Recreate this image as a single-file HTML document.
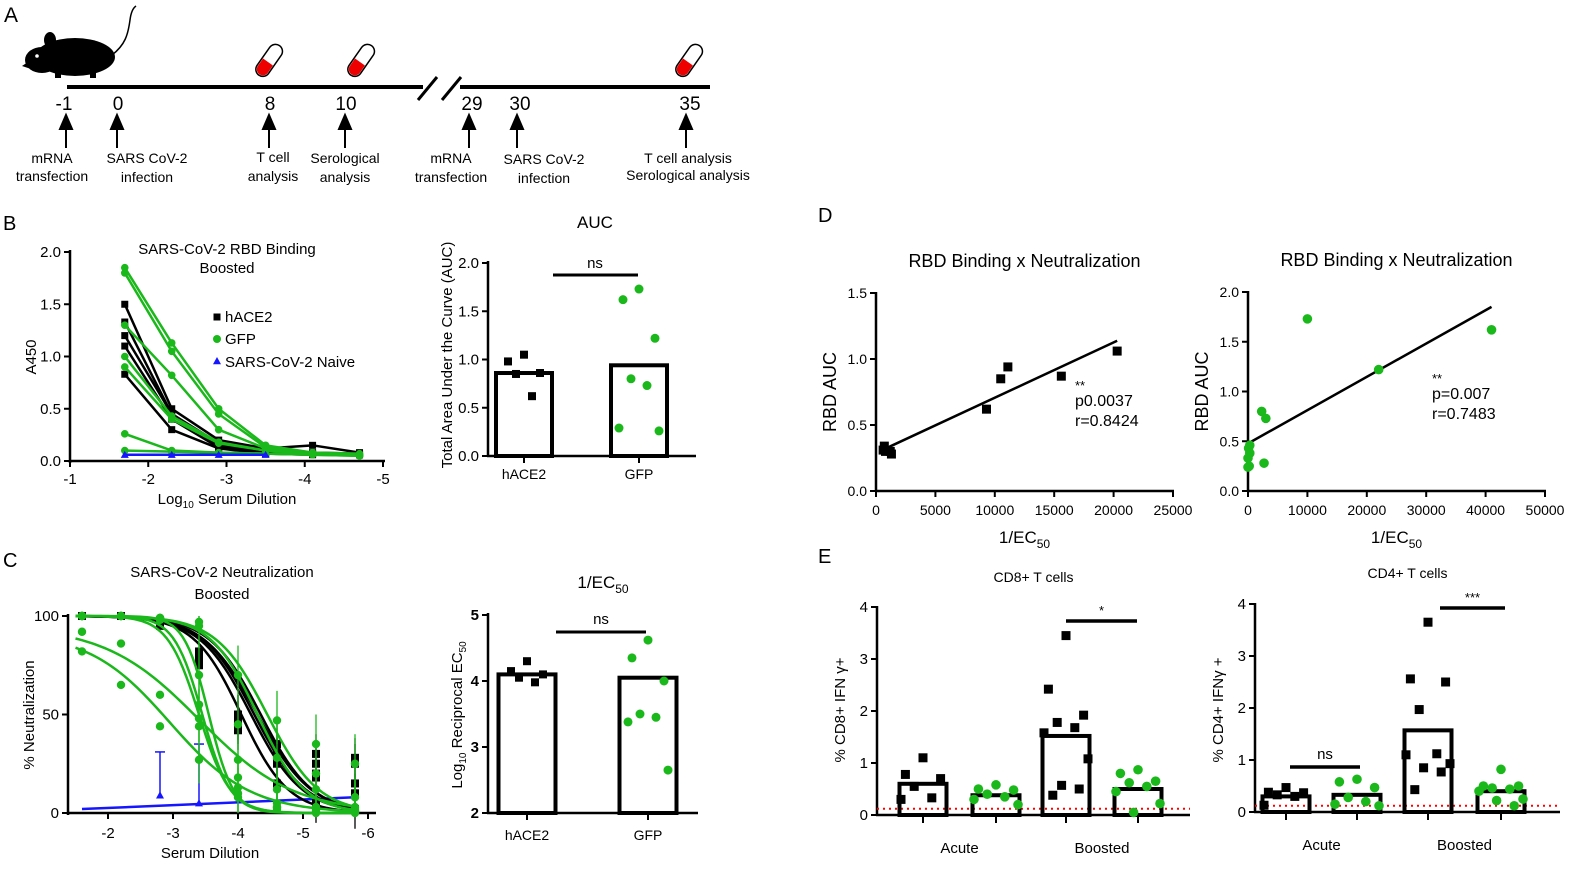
<!DOCTYPE html>
<html><head><meta charset="utf-8"><style>
html,body{margin:0;padding:0;background:#fff;overflow:hidden;}
svg{display:block;font-family:"Liberation Sans",sans-serif;}
</style></head><body>
<svg id="fig" width="1589" height="876" viewBox="0 0 1589 876" xmlns="http://www.w3.org/2000/svg">
<!-- Panel A -->
<g font-size="15" fill="#000">
<text x="4" y="22" font-size="21">A</text>
<g>
<ellipse cx="75" cy="57" rx="40" ry="19" fill="#000"/>
<ellipse cx="42" cy="60" rx="17" ry="13" fill="#000"/>
<path d="M28 62 L22 66 L34 70 Z" fill="#000"/>
<ellipse cx="50" cy="40" rx="6" ry="8" fill="#000"/>
<circle cx="37" cy="56" r="1.8" fill="#fff"/>
<path d="M112 55 C125 45,128 35,130 20 C131 12,133 8,136 6" stroke="#000" stroke-width="1.5" fill="none"/>
<rect x="55" y="72" width="6" height="6" fill="#000"/><rect x="90" y="72" width="6" height="6" fill="#000"/>
</g>
<line x1="67" y1="87" x2="423" y2="87" stroke="#000" stroke-width="4"/>
<line x1="460" y1="87" x2="710" y2="87" stroke="#000" stroke-width="4"/>
<line x1="418" y1="100" x2="437" y2="77" stroke="#000" stroke-width="3"/>
<line x1="442" y1="100" x2="461" y2="77" stroke="#000" stroke-width="3"/>
<g transform="translate(268,62) rotate(35)"><rect x="-7" y="-20" width="14" height="36" rx="7" fill="#fff" stroke="#000" stroke-width="1.5"/><path d="M-6 0 L6 0 L6 9 A6 6 0 0 1 -6 9 Z" fill="#e00"/></g>
<g transform="translate(360,62) rotate(35)"><rect x="-7" y="-20" width="14" height="36" rx="7" fill="#fff" stroke="#000" stroke-width="1.5"/><path d="M-6 0 L6 0 L6 9 A6 6 0 0 1 -6 9 Z" fill="#e00"/></g>
<g transform="translate(688,62) rotate(35)"><rect x="-7" y="-20" width="14" height="36" rx="7" fill="#fff" stroke="#000" stroke-width="1.5"/><path d="M-6 0 L6 0 L6 9 A6 6 0 0 1 -6 9 Z" fill="#e00"/></g>
<g font-size="19" text-anchor="middle">
<text x="64" y="110">-1</text><text x="118" y="110">0</text><text x="270" y="110">8</text><text x="346" y="110">10</text><text x="472" y="110">29</text><text x="520" y="110">30</text><text x="690" y="110">35</text>
</g>
<g stroke="#000" stroke-width="2" fill="#000">
<line x1="66" y1="148" x2="66" y2="122"/><path d="M60 129 L66 115 L72 129 Z"/>
<line x1="117" y1="148" x2="117" y2="122"/><path d="M111 129 L117 115 L123 129 Z"/>
<line x1="269" y1="148" x2="269" y2="122"/><path d="M263 129 L269 115 L275 129 Z"/>
<line x1="345" y1="148" x2="345" y2="122"/><path d="M339 129 L345 115 L351 129 Z"/>
<line x1="469" y1="148" x2="469" y2="122"/><path d="M463 129 L469 115 L475 129 Z"/>
<line x1="517" y1="148" x2="517" y2="122"/><path d="M511 129 L517 115 L523 129 Z"/>
<line x1="686" y1="148" x2="686" y2="122"/><path d="M680 129 L686 115 L692 129 Z"/>
</g>
<g font-size="14" text-anchor="middle">
<text x="52" y="163">mRNA</text><text x="52" y="181">transfection</text>
<text x="147" y="163">SARS CoV-2</text><text x="147" y="182">infection</text>
<text x="273" y="162">T cell</text><text x="273" y="181">analysis</text>
<text x="345" y="163">Serological</text><text x="345" y="182">analysis</text>
<text x="451" y="163">mRNA</text><text x="451" y="182">transfection</text>
<text x="544" y="164">SARS CoV-2</text><text x="544" y="183">infection</text>
<text x="688" y="163">T cell analysis</text><text x="688" y="180">Serological analysis</text>
</g>
</g>
<g font-size="20">
<text x="3" y="230">B</text>
<text x="3" y="567">C</text>
<text x="818" y="222">D</text>
<text x="818" y="563">E</text>
</g>
</svg>
<script>
// ---------- DATA ----------
const bDilution=[-1.7,-2.3,-2.9,-3.5,-4.1,-4.7];
const bHace2=[[1.5,0.5,0.2,0.12,0.15,0.08],[1.33,0.45,0.17,0.1,0.08,0.07],[1.2,0.45,0.15,0.08,0.07,0.06],[1.1,0.4,0.13,0.07,0.07,0.06],[0.83,0.3,0.12,0.07,0.06,0.06]];
const bGfp=[[1.85,1.13,0.5,0.15,0.08,0.07],[1.8,1.05,0.45,0.13,0.08,0.06],[1.3,0.82,0.3,0.12,0.07,0.06],[1.0,0.43,0.18,0.1,0.07,0.05],[0.9,0.4,0.17,0.1,0.07,0.05],[0.26,0.1,0.08,0.07,0.06,0.05],[0.1,0.09,0.08,0.07,0.06,0.05]];
const bNaive=[0.06,0.06,0.06,0.06];
const bYTicks=[0,0.5,1.0,1.5,2.0];
const bXTicks=[-1,-2,-3,-4,-5];
const aucGroups=["hACE2","GFP"];
const aucMeans=[0.86,0.94];
const aucHace2=[1.05,0.98,0.86,0.85,0.62];
const aucGfp=[1.73,1.62,1.22,0.8,0.73,0.29,0.26];
const aucYTicks=[0,0.5,1.0,1.5,2.0];
const cDilution=[-1.6,-2.2,-2.8,-3.4,-4.0,-4.6,-5.2,-5.8];
const cHace2=[[100,100,97,82,50,15,5,2],[100,100,96,78,47,25,20,10],[100,100,95,76,45,30,25,15],[100,100,97,80,50,35,30,25],[100,100,96,75,42,28,18,28]];
const cHace2IC=[-4.05,-4.2,-4.25,-4.3,-4.35];
const cHace2Hill=[1.2,1.1,1.1,1.05,1.1];
const cGfp=[[100,100,99,55,13,3,1,0],[100,100,98,48,18,5,2,1],[100,100,99,70,8,2,0,1],[100,100,99,97,70,47,35,25],[100,100,99,95,45,28,20,3],[92,86,60,44,27,12,12,8],[82,65,44,27,10,3,3,2]];
const cGfpIC=[-3.45,-3.4,-3.55,-4.45,-4.3,-3.4,-2.95];
const cGfpHill=[2.0,1.8,2.3,1.1,1.2,0.6,0.7];
const cGfpTop=[100,100,100,100,100,95,92];
const cNaiveLine=[2,8];
const cNaiveDil=[-2.8,-3.4];
const cNaiveVal=[9,5];
const cNaiveErr=[22,30];
const cYTicks=[0,50,100];
const cXTicks=[-2,-3,-4,-5,-6];
const ecMeans=[4.1,4.05];
const ecHace2=[4.3,4.15,4.1,4.05,3.98];
const ecGfp=[4.62,4.35,4.0,3.5,3.45,3.38,2.65];
const ecYTicks=[2,3,4,5];
const dLeftX=[600,700,800,1200,1300,9300,10500,11100,15600,20300];
const dLeftY=[0.31,0.34,0.3,0.3,0.28,0.62,0.85,0.94,0.87,1.06];
const dRightX=[0,200,300,0,100,300,2300,3000,2700,10000,22000,41000];
const dRightY=[0.24,0.25,0.38,0.33,0.43,0.46,0.8,0.73,0.28,1.73,1.22,1.62];
const dLeftXTicks=[0,5000,10000,15000,20000,25000];
const dLeftYTicks=[0.0,0.5,1.0,1.5];
const dRightXTicks=[0,10000,20000,30000,40000,50000];
const dRightYTicks=[0.0,0.5,1.0,1.5,2.0];
const eGroups=["Acute","Boosted"];
const cd8Means=[0.6,0.38,1.52,0.5];
const cd8Points=[[1.1,0.78,0.7,0.55,0.33,0.3],[0.58,0.5,0.48,0.4,0.35,0.3,0.2],[3.45,2.42,1.92,1.78,1.68,1.58,1.08,0.57,0.5,0.38],[0.87,0.8,0.65,0.62,0.55,0.45,0.22,0.05]];
const cd4Means=[0.3,0.33,1.57,0.4];
const cd4Points=[[0.47,0.38,0.37,0.33,0.3,0.13],[0.63,0.58,0.47,0.28,0.2,0.15,0.12],[3.65,2.56,2.5,1.97,1.12,1.1,0.93,0.85,0.77,0.43],[0.82,0.5,0.5,0.46,0.44,0.4,0.25,0.22,0.12]];
const eYTicks=[0,1,2,3,4];
const eDetection=[0.12];

// ---------- HELPERS ----------
const NS="http://www.w3.org/2000/svg";
const svg=document.getElementById('fig');
const GREEN="#1bb81b";
function mk(tag,attrs,name,txt){
  const e=document.createElementNS(NS,tag);
  for(const k in attrs) e.setAttribute(k,attrs[k]);
  
  
  if(txt!==undefined) e.textContent=txt;
  svg.appendChild(e);
  return e;
}
function lin(d0,d1,r0,r1){return v=>r0+(v-d0)*(r1-r0)/(d1-d0);}
function ln(x1,y1,x2,y2,w,c,name,extra){return mk('line',Object.assign({x1,y1,x2,y2,stroke:c||'#000','stroke-width':w||2},extra||{}),name);}
function tx(x,y,s,size,anchor,name,extra){return mk('text',Object.assign({x,y,'font-size':size||15,'text-anchor':anchor||'middle',fill:'#000'},extra||{}),name,s);}
function sq(x,y,s,c,name){return mk('rect',{x:x-s/2,y:y-s/2,width:s,height:s,fill:c||'#000'},name);}
function dot(x,y,r,c,name){return mk('circle',{cx:x,cy:y,r:r,fill:c||GREEN},name);}
function tri(x,y,s,c,name){return mk('path',{d:`M${x-s} ${y+s*0.8} L${x} ${y-s} L${x+s} ${y+s*0.8} Z`,fill:c},name);}
function rot(x,y,s,size,name,extra){return mk('text',Object.assign({x:0,y:0,'font-size':size||15,'text-anchor':'middle',transform:`translate(${x},${y}) rotate(-90)`},extra||{}),name,s);}
function yAxis(x,y0,y1,ticks,sy,fmt,size,name,bold){
  ln(x,y0,x,y1,2.5,'#000',name+'-line');
  ticks.forEach(t=>{ln(x-6,sy(t),x,sy(t),2,'#000',name+'-tick');
    tx(x-9,sy(t)+5,fmt(t),size||15,'end',name+'-tick-label',bold?{'font-weight':'bold'}:{});});
}

// ---------- PANEL B LEFT ----------
(function(){
  const sx=lin(-1,-5,70,383), sy=lin(0,2,461,252);
  yAxis(70,463,250,bYTicks,sy,t=>t.toFixed(1),15,'b-y-axis');
  ln(69,461,385,461,2.5,'#000','b-x-axis');
  bXTicks.forEach(t=>{ln(sx(t),461,sx(t),467,2,'#000','b-x-tick');tx(sx(t),484,String(t),15,'middle','b-x-tick-label');});
  const draw=(arr,c,name,marker)=>arr.forEach(s=>{
    mk('polyline',{points:s.map((v,i)=>sx(bDilution[i])+','+sy(v)).join(' '),fill:'none',stroke:c,'stroke-width':2.5},name+'-line');
    s.forEach((v,i)=>marker(sx(bDilution[i]),sy(v),name+'-point'));
  });
  draw(bHace2,'#000','b-hace2',(x,y,n)=>sq(x,y,7,'#000',n));
  draw(bGfp,GREEN,'b-gfp',(x,y,n)=>dot(x,y,3.8,GREEN,n));
  mk('polyline',{points:bNaive.map((v,i)=>sx(bDilution[i])+','+sy(v)).join(' '),fill:'none',stroke:'#1515ff','stroke-width':2.5},'b-naive-line');
  bNaive.forEach((v,i)=>tri(sx(bDilution[i]),sy(v),4,'#1515ff','b-naive-point'));
  tx(227,254,'SARS-CoV-2  RBD Binding',15,'middle','b-title');
  tx(227,273,'Boosted',15,'middle','b-subtitle');
  rot(36,357,'A450',15,'b-y-axis-title');
  mk('text',{x:227,y:504,'font-size':15,'text-anchor':'middle'},'b-x-axis-title').innerHTML='Log<tspan font-size="10" dy="4">10</tspan><tspan dy="-4"> Serum Dilution</tspan>';
  sq(217,317,7,'#000','legend-hace2-marker');tx(225,322,'hACE2',15,'start','legend-hace2');
  dot(217,339,4,GREEN,'legend-gfp-marker');tx(225,344,'GFP',15,'start','legend-gfp');
  tri(217,361,4,'#1515ff','legend-naive-marker');tx(225,367,'SARS-CoV-2 Naive',15,'start','legend-naive');
})();

function barChart(o){
  const sy=lin(o.d0,o.d1,o.y0,o.y1);
  yAxis(o.ax,o.y0+1,o.y1-2,o.ticks,sy,o.fmt,o.tsize,o.name+'-y-axis',o.bold);
  ln(o.ax-1,o.y0,o.ax2,o.y0,2.5,'#000',o.name+'-x-axis');
  o.means.forEach((m,i)=>{
    const cx=o.centers[i];
    mk('rect',{x:cx-o.bw/2,y:sy(m),width:o.bw,height:o.y0-sy(m),fill:'none',stroke:'#000','stroke-width':4},o.name+'-bar-'+i);
    if(o.ticksX) ln(cx,o.y0,cx,o.y0+7,2,'#000',o.name+'-x-tick');
  });
  return sy;
}
const jit=[0,-16,16,-8,8,-20,20,-4,12,-12];

// ---------- AUC ----------
(function(){
  const centers=[524,639];
  const sy=barChart({name:'auc',d0:0,d1:2,y0:456,y1:263,ax:488,ax2:696,ticks:aucYTicks,fmt:t=>t.toFixed(1),tsize:15,means:aucMeans,centers,bw:56,ticksX:true});
  aucHace2.forEach((v,i)=>sq(centers[0]+jit[i],sy(v),8,'#000','auc-hace2-point'));
  aucGfp.forEach((v,i)=>dot(centers[1]+jit[i],sy(v),4.5,GREEN,'auc-gfp-point'));
  aucGroups.forEach((g,i)=>tx(centers[i],479,g,14,'middle','auc-x-label'));
  ln(553,275,638,275,3,'#000','auc-ns-bar');tx(595,268,'ns',15,'middle','auc-ns-label');
  tx(595,228,'AUC',17,'middle','auc-title');
  rot(452,355,'Total Area Under the Curve (AUC)',15,'auc-y-axis-title');
})();

// ---------- PANEL C LEFT ----------
(function(){
  const sx=lin(-2,-6,108,368), sy=lin(0,100,813,616);
  yAxis(68,815,614,cYTicks,sy,t=>String(t),15,'c-y-axis');
  ln(67,813,376,813,2.5,'#000','c-x-axis');
  cXTicks.forEach(t=>{ln(sx(t),813,sx(t),819,2,'#000','c-x-tick');tx(sx(t),838,String(t),15,'middle','c-x-tick-label');});
  const curve=(ic,h,top,c,name)=>{const pts=[];for(let x=-1.5;x>=-5.85;x-=0.05){pts.push(sx(x)+','+sy(top/(1+Math.pow(10,h*(ic-x)))));}
    mk('polyline',{points:pts.join(' '),fill:'none',stroke:c,'stroke-width':2.5},name);};
  mk('line',{x1:sx(-1.6),y1:sy(cNaiveLine[0]),x2:sx(-5.8),y2:sy(cNaiveLine[1]),stroke:'#1515ff','stroke-width':2.5},'c-naive-line');
  cNaiveDil.forEach((d,i)=>{ln(sx(d),sy(cNaiveVal[i]),sx(d),sy(cNaiveVal[i]+cNaiveErr[i]),1.5,'#1515ff','c-naive-errorbar');
    ln(sx(d)-5,sy(cNaiveVal[i]+cNaiveErr[i]),sx(d)+5,sy(cNaiveVal[i]+cNaiveErr[i]),1.5,'#1515ff','c-naive-errorcap');
    tri(sx(d),sy(cNaiveVal[i]),4,'#1515ff','c-naive-point');});
  cHace2.forEach((s,k)=>{curve(cHace2IC[k],cHace2Hill[k],100,'#000','c-hace2-curve');
    s.forEach((v,i)=>{if(i>=4){ln(sx(cDilution[i]),sy(v-10),sx(cDilution[i]),sy(v+10),1.3,'#000','c-hace2-errorbar');}
      sq(sx(cDilution[i]),sy(v),8,'#000','c-hace2-point');});});
  cGfp.forEach((s,k)=>{curve(cGfpIC[k],cGfpHill[k],cGfpTop[k],GREEN,'c-gfp-curve');
    s.forEach((v,i)=>{if(i>=3){ln(sx(cDilution[i]),sy(Math.max(0,v-12)),sx(cDilution[i]),sy(Math.min(100,v+15)),1.3,GREEN,'c-gfp-errorbar');}
      dot(sx(cDilution[i]),sy(v),4.2,GREEN,'c-gfp-point');});});
  tx(222,577,'SARS-CoV-2  Neutralization',15,'middle','c-title');
  tx(222,599,'Boosted',15,'middle','c-subtitle');
  rot(34,715,'% Neutralization',15,'c-y-axis-title');
  tx(210,858,'Serum Dilution',15,'middle','c-x-axis-title');
})();

// ---------- EC50 ----------
(function(){
  const centers=[527,648];
  const sy=barChart({name:'ec50',d0:2,d1:5,y0:813,y1:615,ax:488,ax2:698,ticks:ecYTicks,fmt:t=>String(t),tsize:15,bold:true,means:ecMeans,centers,bw:57,ticksX:true});
  ecHace2.forEach((v,i)=>sq(centers[0]+jit[i],sy(v),8,'#000','ec50-hace2-point'));
  ecGfp.forEach((v,i)=>dot(centers[1]+jit[i],sy(v),4.5,GREEN,'ec50-gfp-point'));
  aucGroups.forEach((g,i)=>tx(centers[i],840,g,14,'middle','ec50-x-label'));
  ln(556,632,646,632,3,'#000','ec50-ns-bar');tx(601,624,'ns',15,'middle','ec50-ns-label');
  mk('text',{x:603,y:588,'font-size':17,'text-anchor':'middle'},'ec50-title').innerHTML='1/EC<tspan font-size="12" dy="5">50</tspan>';
  mk('text',{x:0,y:0,'font-size':15,'text-anchor':'middle',transform:'translate(462,715) rotate(-90)'},'ec50-y-axis-title').innerHTML='Log<tspan font-size="10" dy="4">10</tspan><tspan dy="-4"> Reciprocal EC</tspan><tspan font-size="10" dy="4">50</tspan>';
})();

// ---------- PANEL D ----------
function scatter(o){
  const sx=lin(0,o.xmax,o.ax,o.axEnd), sy=lin(0,o.ymax,o.y0,o.y1);
  yAxis(o.ax,o.y0+1,o.y1-1,o.yt,sy,t=>t.toFixed(1),14,o.name+'-y-axis');
  ln(o.ax-1,o.y0,o.axEnd+1,o.y0,2.5,'#000',o.name+'-x-axis');
  o.xt.forEach(t=>{ln(sx(t),o.y0,sx(t),o.y0+6,2,'#000',o.name+'-x-tick');tx(sx(t),o.y0+24,String(t),14,'middle',o.name+'-x-tick-label');});
  const n=o.xs.length, mx=o.xs.reduce((a,b)=>a+b)/n, my=o.ys.reduce((a,b)=>a+b)/n;
  let sxy=0,sxx=0;o.xs.forEach((x,i)=>{sxy+=(x-mx)*(o.ys[i]-my);sxx+=(x-mx)*(x-mx);});
  const b=sxy/sxx,a=my-b*mx, xmin=Math.min(...o.xs), xmax=Math.max(...o.xs);
  ln(sx(xmin),sy(a+b*xmin),sx(xmax),sy(a+b*xmax),2.5,'#000',o.name+'-regression-line');
  o.xs.forEach((x,i)=>o.marker(sx(x),sy(o.ys[i])));
  const cx=(o.ax+o.axEnd)/2;
  tx(cx,o.y1-26,'RBD Binding x Neutralization',18,'middle',o.name+'-title');
  rot(o.ax-40,(o.y0+o.y1)/2,'RBD AUC',18,o.name+'-y-axis-title');
  mk('text',{x:cx,y:o.y0+52,'font-size':17,'text-anchor':'middle'},o.name+'-x-axis-title').innerHTML='1/EC<tspan font-size="12" dy="5">50</tspan>';
  o.stats.forEach((s,i)=>tx(o.statX,o.statY+i*20-(i>0?4:0),s,i===0?13:16,'start',o.name+'-stat'));
}
scatter({name:'d-left',xmax:25000,ax:876,axEnd:1173,ymax:1.5,y0:491,y1:293,xs:dLeftX,ys:dLeftY,xt:dLeftXTicks,yt:dLeftYTicks,
  marker:(x,y)=>sq(x,y,9,'#000','d-left-point'),stats:['**','p0.0037','r=0.8424'],statX:1075,statY:390});
scatter({name:'d-right',xmax:50000,ax:1248,axEnd:1545,ymax:2.0,y0:491,y1:292,xs:dRightX,ys:dRightY,xt:dRightXTicks,yt:dRightYTicks,
  marker:(x,y)=>dot(x,y,4.8,GREEN,'d-right-point'),stats:['**','p=0.007','r=0.7483'],statX:1432,statY:383});

// ---------- PANEL E ----------
function tcell(o){
  const sy=lin(0,4,o.y0,o.y1);
  yAxis(o.ax,o.y0+1,o.y1-1,eYTicks,sy,t=>String(t),15,o.name+'-y-axis');
  ln(o.ax-1,o.y0,o.axEnd,o.y0,2.5,'#000',o.name+'-x-axis');
  mk('line',{x1:o.ax,y1:sy(eDetection[0]),x2:o.axEnd,y2:sy(eDetection[0]),stroke:'#f00','stroke-width':2,'stroke-dasharray':'2,4'},o.name+'-detection-limit');
  o.means.forEach((m,i)=>{const cx=o.centers[i];
    mk('rect',{x:cx-o.bw/2,y:sy(m),width:o.bw,height:o.y0-sy(m),fill:'none',stroke:'#000','stroke-width':4},o.name+'-bar');
    ln(cx,o.y0,cx,o.y0+8,2,'#000',o.name+'-x-tick');
    o.pts[i].forEach((v,j)=>{const x=cx+jit[j]*1.1; if(i%2===0) sq(x,sy(v),9,'#000',o.name+'-hace2-point'); else dot(x,sy(v),4.8,GREEN,o.name+'-gfp-point');});
  });
  eGroups.forEach((g,i)=>tx((o.centers[2*i]+o.centers[2*i+1])/2,o.y0+38,g,15,'middle',o.name+'-group-label'));
  ln(o.ns[0],o.ns[1],o.ns[2],o.ns[1],3.5,'#000',o.name+'-ns-bar');tx((o.ns[0]+o.ns[2])/2,o.ns[1]-8,'ns',15,'middle',o.name+'-ns-label');
  ln(o.sig[0],o.sig[1],o.sig[2],o.sig[1],3.5,'#000',o.name+'-sig-bar');tx((o.sig[0]+o.sig[2])/2,o.sig[1]-6,o.sigText,13,'middle',o.name+'-sig-label');
  tx((o.ax+o.axEnd)/2,o.titleY,o.title,14,'middle',o.name+'-title');
  rot(o.ax-32,710,o.ylab,15,o.name+'-y-axis-title');
}
tcell({name:'cd8',ax:877,axEnd:1190,y0:815,y1:607,means:cd8Means,pts:cd8Points,centers:[923,996,1066,1138],bw:47,
  ns:[930,988,740],sig:[1066,621,1137],sigText:'*',title:'CD8+ T cells',titleY:582,ylab:'% CD8+ IFN \u03b3+'});
tcell({name:'cd4',ax:1255,axEnd:1560,y0:812,y1:604,means:cd4Means,pts:cd4Points,centers:[1286,1357,1428,1501],bw:47,
  ns:[1290,767,1360],sig:[1440,608,1505],sigText:'***',title:'CD4+ T cells',titleY:578,ylab:'% CD4+ IFN\u03b3 +'});
</script>
</body></html>
